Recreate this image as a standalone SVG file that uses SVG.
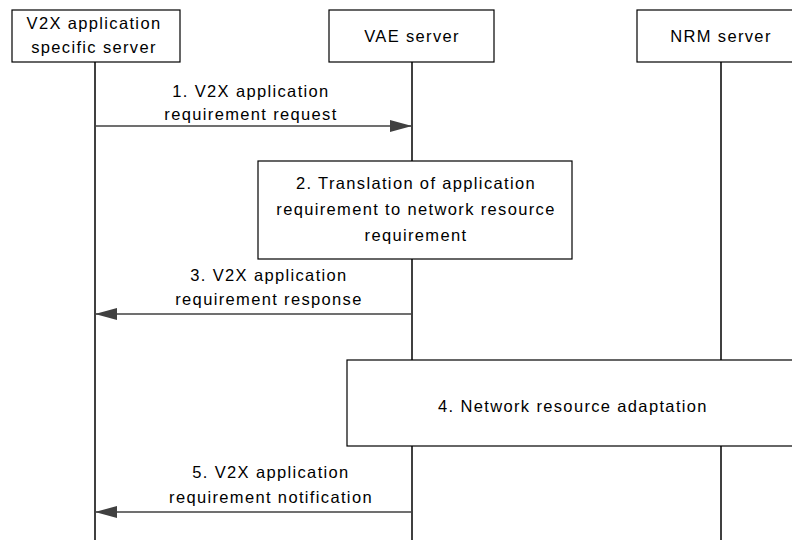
<svg xmlns="http://www.w3.org/2000/svg" width="792" height="540" viewBox="0 0 792 540">
<defs>
<style>
.box{fill:#fff;stroke:#000;stroke-width:1.2}
.life{stroke:#000;stroke-width:1.5}
.msg{stroke:#404040;stroke-width:1.3;fill:none}
text{font-family:"Liberation Sans",Arial,sans-serif;font-size:16.5px;letter-spacing:1.35px;fill:#000;text-anchor:middle}
</style>
<marker id="ah" markerWidth="22" markerHeight="12" refX="22" refY="6" orient="auto" markerUnits="userSpaceOnUse">
<path d="M0,0 L22,6 L0,12 Z" fill="#404040"/>
</marker>
</defs>
<g id="lifelines">
<line class="life" x1="95" y1="62" x2="95" y2="540"/>
<line class="life" x1="412" y1="62" x2="412" y2="540"/>
<line class="life" x1="721" y1="62" x2="721" y2="540"/>
</g>
<g id="n-asserver">
<rect class="box" x="12" y="10" width="168" height="52"/>
<text x="94" y="29">V2X application</text>
<text x="94" y="53">specific server</text>
</g>
<g id="n-vae">
<rect class="box" x="329" y="10" width="165" height="52"/>
<text x="412" y="42">VAE server</text>
</g>
<g id="n-nrm">
<rect class="box" x="637" y="10" width="170" height="52"/>
<text x="721" y="42">NRM server</text>
</g>
<g id="n-step2">
<rect class="box" x="258" y="161" width="314" height="98"/>
<text x="416" y="189">2. Translation of application</text>
<text x="416" y="215">requirement to network resource</text>
<text x="416" y="241">requirement</text>
</g>
<g id="n-step4">
<rect class="box" x="347" y="360" width="460" height="86"/>
<text x="573" y="412">4. Network resource adaptation</text>
</g>
<g id="connectors">
<line class="msg" x1="95" y1="126" x2="412" y2="126" marker-end="url(#ah)"/>
<line class="msg" x1="412" y1="314" x2="95" y2="314" marker-end="url(#ah)"/>
<line class="msg" x1="412" y1="512" x2="95" y2="512" marker-end="url(#ah)"/>
</g>
<g id="labels">
<text x="251" y="97">1. V2X application</text>
<text x="251" y="120">requirement request</text>
<text x="269" y="281">3. V2X application</text>
<text x="269" y="305">requirement response</text>
<text x="271" y="478">5. V2X application</text>
<text x="271" y="503">requirement notification</text>
</g>
</svg>
